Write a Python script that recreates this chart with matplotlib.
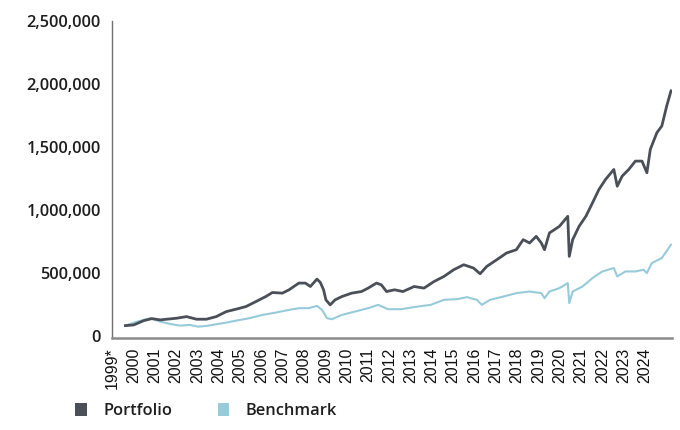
import matplotlib
matplotlib.use("Agg")
import matplotlib.pyplot as plt
from matplotlib.patches import Patch
from matplotlib.ticker import FuncFormatter

# ---- data ----
port_x = [1999.63, 2000.02, 2000.49, 2000.87, 2001.26, 2001.57, 2002.03, 2002.50, 2002.96, 2003.43,
          2003.89, 2004.36, 2004.82, 2005.28, 2005.75, 2006.21, 2006.52, 2006.99, 2007.30, 2007.76,
          2008.07, 2008.30, 2008.61, 2008.77, 2008.92, 2009.03, 2009.23, 2009.46, 2009.78, 2010.24,
          2010.70, 2011.01, 2011.40, 2011.63, 2011.87, 2012.25, 2012.64, 2013.17, 2013.63, 2014.10,
          2014.56, 2015.02, 2015.49, 2015.95, 2016.26, 2016.57, 2017.04, 2017.50, 2017.96, 2018.28,
          2018.58, 2018.89, 2019.13, 2019.28, 2019.51, 2019.98, 2020.37, 2020.44, 2020.60, 2020.90,
          2021.22, 2021.53, 2021.83, 2022.14, 2022.53, 2022.69, 2022.92, 2023.23, 2023.54, 2023.85,
          2024.08, 2024.24, 2024.55, 2024.78, 2025.01, 2025.21]
portfolio = [82000, 87600, 121800, 137700, 127400, 133000, 140900, 153700, 133000, 133000,
             153700, 193500, 212600, 233300, 273100, 312900, 344800, 340000, 366300, 419600,
             419600, 392500, 451400, 424400, 366300, 286600, 246800, 286600, 312900, 340000,
             352700, 379800, 419600, 406100, 352700, 366300, 352700, 392500, 379800, 432300,
             472100, 525500, 565300, 539000, 493600, 551800, 605100, 658500, 684700, 764400,
             738100, 790600, 738100, 684700, 817700, 870200, 949900, 631400, 764400, 870200,
             949900, 1056600, 1162500, 1242100, 1321700, 1188700, 1268400, 1321700, 1387800, 1387800,
             1295400, 1480900, 1613900, 1666400, 1825700, 1945100]

bench_x = [1999.63, 2000.18, 2000.79, 2001.26, 2001.72, 2002.19, 2002.65, 2003.04, 2003.43, 2003.89,
           2004.36, 2004.82, 2005.44, 2006.06, 2006.68, 2007.30, 2007.76, 2008.22, 2008.61, 2008.85,
           2009.08, 2009.31, 2009.78, 2010.39, 2011.01, 2011.48, 2011.94, 2012.56, 2013.32, 2013.94,
           2014.56, 2015.18, 2015.64, 2016.11, 2016.34, 2016.72, 2017.35, 2017.96, 2018.58, 2019.13,
           2019.28, 2019.51, 2019.98, 2020.37, 2020.44, 2020.60, 2021.06, 2021.53, 2021.99, 2022.53,
           2022.69, 2023.07, 2023.54, 2023.92, 2024.08, 2024.31, 2024.78, 2025.21]
benchmark = [82000, 113900, 140900, 113900, 95500, 82000, 87600, 74000, 79600, 93200,
             105900, 121800, 140900, 167200, 185500, 207000, 220500, 220500, 238900, 207000,
             140900, 133000, 167200, 193500, 220500, 246800, 212600, 212600, 233300, 246800,
             286600, 292200, 308100, 286600, 246800, 286600, 312900, 340000, 352700, 340000,
             300200, 352700, 379800, 419600, 260400, 352700, 392500, 459400, 512000, 539000,
             472100, 512000, 512000, 525500, 499200, 578800, 618600, 724500]

tick_years = list(range(1999, 2025))
tick_labels = ["1999*"] + [str(y) for y in range(2000, 2025)]
y_ticks = [0, 500000, 1000000, 1500000, 2000000, 2500000]
series_names = ["Portfolio", "Benchmark"]

# ---- styling ----
PORT_C = "#4b4f58"
BENCH_C = "#97cbd9"

fig = plt.figure(figsize=(6.8, 4.3), dpi=100)
ax = fig.add_axes([0.1647, 0.2140, 0.8235, 0.7372])

ax.plot(bench_x, benchmark, color=BENCH_C, lw=1.5, solid_joinstyle="round")
ax.plot(port_x, portfolio, color=PORT_C, lw=2.0, solid_joinstyle="round")

ax.set_xlim(1999.246, 2025.256)
ax.set_ylim(-16000, 2500000)

for s in ["top", "right"]:
    ax.spines[s].set_visible(False)
ax.spines["left"].set_color("#707070")
ax.spines["left"].set_linewidth(1.0)
ax.spines["bottom"].set_color("#8a8a8a")
ax.spines["bottom"].set_linewidth(1.8)

ax.set_yticks(y_ticks)
ax.yaxis.set_major_formatter(FuncFormatter(lambda v, p: f"{int(v):,}"))
ax.tick_params(axis="y", length=0, pad=8, labelsize=11.8, labelcolor="#1e1e1e")
for lab in ax.get_yticklabels():
    lab.set_fontfamily(["Open Sans", "DejaVu Sans"])
    lab.set_fontweight("semibold")

ax.set_xticks(tick_years)
ax.set_xticklabels(tick_labels, rotation=90, va="top", ha="center",
                   fontfamily=["Liberation Sans", "DejaVu Sans"], fontsize=11.5, color="#111111")
ax.tick_params(axis="x", length=0, pad=7)

handles = [Patch(facecolor=PORT_C, edgecolor="none"), Patch(facecolor=BENCH_C, edgecolor="none")]
leg = fig.legend(handles, series_names, loc="center left", bbox_to_anchor=(0.089, 0.045),
                 ncol=2, frameon=False, handlelength=0.72, handleheight=0.85,
                 handletextpad=1.0, columnspacing=2.75,
                 prop={"family": ["Open Sans", "DejaVu Sans"], "weight": "semibold", "size": 11.8})
for t in leg.get_texts():
    t.set_color("#1e1e1e")

fig.savefig("out.png", dpi=100)
